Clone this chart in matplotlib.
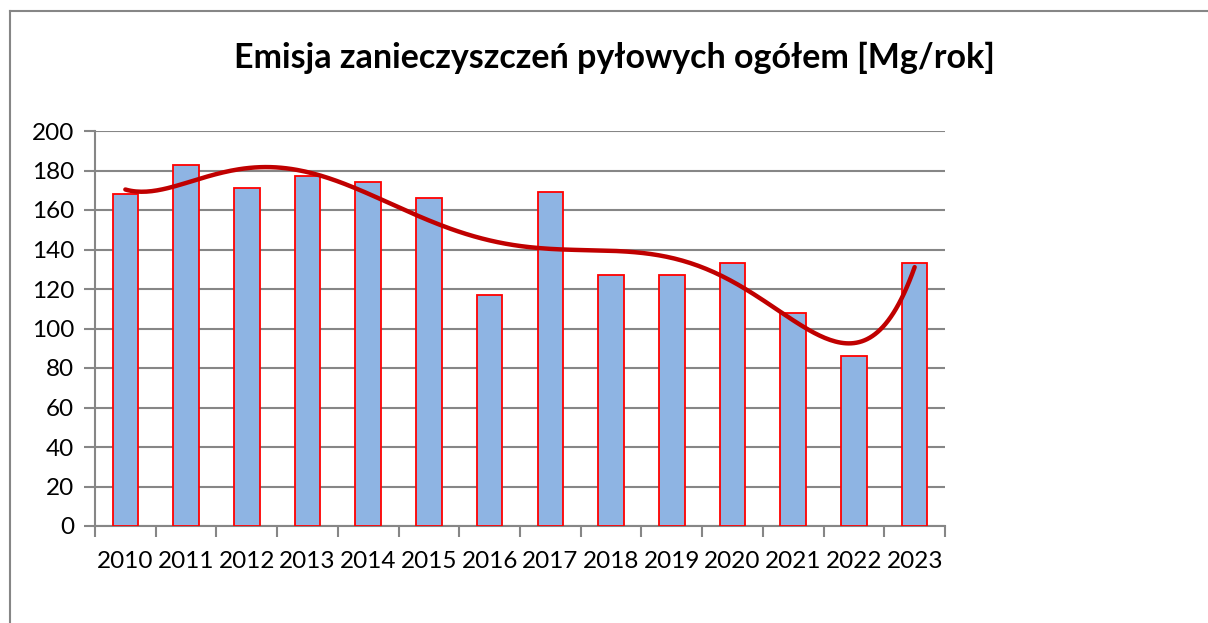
import numpy as np
import matplotlib.pyplot as plt
from matplotlib.lines import Line2D

years = ["2010", "2011", "2012", "2013", "2014", "2015", "2016",
         "2017", "2018", "2019", "2020", "2021", "2022", "2023"]
emisja = [168, 183, 171, 177, 174, 166, 117, 169, 127, 127, 133, 108, 86, 133]
y_ticks = [0, 20, 40, 60, 80, 100, 120, 140, 160, 180, 200]

plt.rcParams['font.family'] = ['Lato', 'DejaVu Sans']

fig = plt.figure(figsize=(12.08, 6.23), dpi=100)
ax = fig.add_axes([95 / 1208, 1 - 526 / 623, 850 / 1208, 395 / 623])

x = np.arange(len(years))
ax.bar(x, emisja, width=0.42, color='#8EB4E3', edgecolor='#FF0000',
       linewidth=1.3, zorder=3)

# polynomial trend line (like excel, order 6)
coef = np.polyfit(x + 1, emisja, 6)
xs = np.linspace(1, len(years), 300)
ax.plot(xs - 1, np.polyval(coef, xs), color='#C00000', lw=3.2,
        solid_capstyle='round', zorder=4)

ax.set_xlim(-0.5, len(years) - 0.5)
ax.set_ylim(0, 200)
ax.set_yticks(y_ticks)
ax.set_yticklabels([str(v) for v in y_ticks], fontsize=17.5)
ax.set_xticks(x)
ax.set_xticklabels(years, fontsize=17.5)
ax.set_xticks(np.arange(-0.5, len(years)), minor=True)
ax.tick_params(axis='x', which='major', length=0, pad=18)
ax.tick_params(axis='x', which='minor', length=8, width=1.5, color='#868686')
ax.tick_params(axis='y', length=8, width=1.5, color='#868686', pad=7)

ax.grid(axis='y', color='#868686', lw=1.5, zorder=0)
for s in ['top', 'right']:
    ax.spines[s].set_visible(False)
for s in ['left', 'bottom']:
    ax.spines[s].set_color('#868686')
    ax.spines[s].set_linewidth(1.5)

fig.text(614 / 1208, 1 - 58 / 623, 'Emisja zanieczyszczeń pyłowych ogółem [Mg/rok]',
         ha='center', va='center', fontsize=24.5, fontweight='bold')

# chart frame
fig.add_artist(Line2D([10 / 1208, 1], [1 - 11 / 623, 1 - 11 / 623],
                      color='#868686', lw=1.5))
fig.add_artist(Line2D([10 / 1208, 10 / 1208], [0, 1 - 11 / 623],
                      color='#868686', lw=1.5))

fig.savefig('out.png', dpi=100)
